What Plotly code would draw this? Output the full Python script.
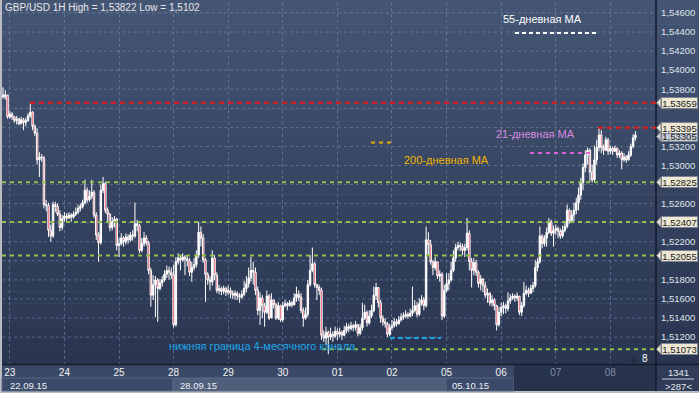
import plotly.graph_objects as go

# ---------------- data ----------------
first_open = 1.5374
closes = [1.5372,1.5374,1.5351,1.5354,1.5351,1.5347,1.5349,1.5344,1.5348,1.5345,
1.5347,1.5352,1.5356,1.5341,1.5334,1.5306,1.5309,1.5308,1.5259,1.5258,
1.5232,1.5226,1.5259,1.5257,1.5249,1.5235,1.5244,1.5247,1.5245,1.5248,
1.5246,1.5249,1.5251,1.5255,1.5257,1.5261,1.5274,1.5264,1.5268,1.5272,
1.5248,1.5227,1.5219,1.5274,1.5281,1.5253,1.5249,1.5235,1.5241,1.5244,
1.5216,1.5218,1.5224,1.5220,1.5225,1.5222,1.5227,1.5226,1.5239,1.5237,
1.5211,1.5218,1.5224,1.5219,1.5190,1.5164,1.5175,1.5180,1.5171,1.5177,
1.5180,1.5186,1.5190,1.5188,1.5185,1.5133,1.5199,1.5203,1.5201,1.5204,
1.5202,1.5200,1.5188,1.5193,1.5196,1.5206,1.5230,1.5224,1.5201,1.5186,
1.5180,1.5178,1.5203,1.5185,1.5169,1.5171,1.5168,1.5171,1.5167,1.5169,
1.5166,1.5164,1.5166,1.5163,1.5162,1.5165,1.5171,1.5176,1.5182,1.5190,
1.5188,1.5169,1.5148,1.5161,1.5153,1.5146,1.5163,1.5140,1.5159,1.5154,
1.5140,1.5153,1.5138,1.5153,1.5155,1.5153,1.5156,1.5154,1.5161,1.5165,
1.5162,1.5148,1.5140,1.5144,1.5175,1.5190,1.5197,1.5175,1.5172,1.5169,
1.5122,1.5119,1.5125,1.5120,1.5123,1.5121,1.5126,1.5123,1.5125,1.5122,
1.5127,1.5131,1.5129,1.5132,1.5130,1.5133,1.5124,1.5130,1.5140,1.5146,
1.5135,1.5142,1.5148,1.5164,1.5172,1.5156,1.5140,1.5136,1.5134,1.5123,
1.5130,1.5132,1.5136,1.5134,1.5138,1.5141,1.5142,1.5144,1.5142,1.5145,
1.5148,1.5153,1.5144,1.5155,1.5159,1.5153,1.5222,1.5217,1.5199,1.5193,
1.5199,1.5184,1.5186,1.5142,1.5169,1.5176,1.5180,1.5190,1.5203,1.5214,
1.5216,1.5215,1.5211,1.5214,1.5229,1.5199,1.5190,1.5198,1.5188,1.5176,
1.5181,1.5174,1.5164,1.5166,1.5156,1.5159,1.5153,1.5133,1.5146,1.5151,
1.5153,1.5150,1.5158,1.5161,1.5163,1.5161,1.5163,1.5146,1.5153,1.5166,
1.5169,1.5166,1.5171,1.5174,1.5193,1.5199,1.5226,1.5218,1.5224,1.5230,
1.5241,1.5229,1.5232,1.5234,1.5231,1.5226,1.5232,1.5236,1.5253,1.5242,
1.5248,1.5253,1.5261,1.5269,1.5282,1.5298,1.5311,1.5316,1.5293,1.5285,
1.5306,1.5319,1.5332,1.5319,1.5316,1.5327,1.5315,1.5318,1.5315,1.5318,
1.5311,1.5313,1.5306,1.5309,1.5306,1.5311,1.5320,1.5329,1.5332]
highs = [1.5382,1.5379,1.5374,1.5357,1.5356,1.5352,1.5352,1.5350,1.5351,1.5350,
1.5350,1.5355,1.5365,1.5357,1.5343,1.5339,1.5314,1.5312,1.5310,1.5264,
1.5261,1.5238,1.5262,1.5262,1.5260,1.5253,1.5248,1.5251,1.5250,1.5251,
1.5250,1.5252,1.5256,1.5259,1.5260,1.5264,1.5285,1.5277,1.5274,1.5285,
1.5274,1.5251,1.5230,1.5280,1.5288,1.5283,1.5256,1.5250,1.5246,1.5247,
1.5245,1.5224,1.5229,1.5226,1.5229,1.5228,1.5230,1.5232,1.5261,1.5243,
1.5239,1.5224,1.5230,1.5227,1.5221,1.5193,1.5185,1.5184,1.5182,1.5181,
1.5184,1.5190,1.5195,1.5194,1.5193,1.5196,1.5204,1.5208,1.5206,1.5208,
1.5206,1.5205,1.5203,1.5199,1.5203,1.5211,1.5241,1.5236,1.5228,1.5203,
1.5188,1.5184,1.5211,1.5206,1.5188,1.5175,1.5173,1.5174,1.5173,1.5174,
1.5172,1.5169,1.5169,1.5168,1.5166,1.5169,1.5179,1.5184,1.5193,1.5204,
1.5199,1.5193,1.5173,1.5167,1.5164,1.5156,1.5169,1.5165,1.5166,1.5159,
1.5156,1.5157,1.5154,1.5157,1.5159,1.5157,1.5159,1.5158,1.5166,1.5173,
1.5169,1.5166,1.5151,1.5151,1.5180,1.5206,1.5214,1.5199,1.5176,1.5175,
1.5172,1.5127,1.5131,1.5127,1.5130,1.5126,1.5131,1.5129,1.5130,1.5127,
1.5132,1.5135,1.5134,1.5136,1.5134,1.5137,1.5134,1.5134,1.5156,1.5154,
1.5148,1.5148,1.5154,1.5173,1.5177,1.5172,1.5159,1.5143,1.5140,1.5136,
1.5134,1.5138,1.5140,1.5139,1.5142,1.5145,1.5146,1.5148,1.5146,1.5150,
1.5173,1.5159,1.5157,1.5161,1.5164,1.5162,1.5236,1.5230,1.5222,1.5201,
1.5204,1.5199,1.5190,1.5188,1.5175,1.5187,1.5187,1.5199,1.5211,1.5218,
1.5220,1.5219,1.5218,1.5218,1.5245,1.5232,1.5203,1.5203,1.5201,1.5190,
1.5185,1.5182,1.5178,1.5171,1.5167,1.5164,1.5161,1.5154,1.5152,1.5156,
1.5157,1.5155,1.5167,1.5165,1.5166,1.5165,1.5167,1.5163,1.5157,1.5178,
1.5174,1.5172,1.5175,1.5178,1.5201,1.5203,1.5236,1.5228,1.5227,1.5235,
1.5245,1.5243,1.5237,1.5238,1.5236,1.5234,1.5237,1.5240,1.5259,1.5255,
1.5253,1.5261,1.5266,1.5277,1.5287,1.5302,1.5316,1.5319,1.5318,1.5301,
1.5321,1.5327,1.5340,1.5337,1.5322,1.5330,1.5329,1.5321,1.5320,1.5321,
1.5319,1.5316,1.5315,1.5313,1.5311,1.5315,1.5323,1.5333,1.5336]
lows = [1.5370,1.5369,1.5349,1.5349,1.5348,1.5345,1.5343,1.5342,1.5343,1.5337,
1.5341,1.5346,1.5350,1.5337,1.5331,1.5301,1.5288,1.5304,1.5255,1.5252,
1.5225,1.5220,1.5224,1.5251,1.5247,1.5231,1.5232,1.5241,1.5242,1.5244,
1.5241,1.5244,1.5247,1.5249,1.5252,1.5255,1.5259,1.5261,1.5262,1.5265,
1.5245,1.5222,1.5199,1.5217,1.5271,1.5250,1.5241,1.5231,1.5232,1.5235,
1.5211,1.5204,1.5216,1.5215,1.5217,1.5218,1.5220,1.5221,1.5224,1.5231,
1.5208,1.5209,1.5215,1.5216,1.5186,1.5152,1.5159,1.5141,1.5136,1.5169,
1.5173,1.5178,1.5182,1.5180,1.5181,1.5130,1.5131,1.5196,1.5190,1.5199,
1.5185,1.5194,1.5184,1.5178,1.5190,1.5193,1.5203,1.5215,1.5198,1.5157,
1.5175,1.5169,1.5174,1.5180,1.5166,1.5165,1.5164,1.5165,1.5163,1.5164,
1.5161,1.5160,1.5159,1.5159,1.5156,1.5160,1.5163,1.5167,1.5172,1.5178,
1.5175,1.5164,1.5143,1.5133,1.5140,1.5131,1.5144,1.5138,1.5140,1.5150,
1.5138,1.5138,1.5136,1.5136,1.5151,1.5148,1.5152,1.5151,1.5153,1.5157,
1.5158,1.5145,1.5131,1.5138,1.5141,1.5173,1.5188,1.5172,1.5159,1.5164,
1.5117,1.5115,1.5112,1.5102,1.5117,1.5115,1.5119,1.5117,1.5120,1.5117,
1.5121,1.5124,1.5125,1.5127,1.5126,1.5127,1.5121,1.5122,1.5127,1.5138,
1.5131,1.5133,1.5140,1.5146,1.5159,1.5151,1.5135,1.5132,1.5130,1.5120,
1.5121,1.5127,1.5130,1.5131,1.5133,1.5136,1.5138,1.5140,1.5139,1.5141,
1.5142,1.5146,1.5141,1.5142,1.5153,1.5148,1.5151,1.5206,1.5196,1.5185,
1.5190,1.5181,1.5178,1.5138,1.5140,1.5167,1.5169,1.5178,1.5188,1.5199,
1.5211,1.5210,1.5206,1.5204,1.5211,1.5190,1.5172,1.5185,1.5184,1.5172,
1.5169,1.5167,1.5161,1.5156,1.5153,1.5152,1.5148,1.5127,1.5131,1.5142,
1.5144,1.5145,1.5147,1.5155,1.5159,1.5157,1.5158,1.5143,1.5142,1.5151,
1.5164,1.5162,1.5165,1.5167,1.5172,1.5189,1.5197,1.5213,1.5215,1.5215,
1.5228,1.5226,1.5215,1.5227,1.5224,1.5223,1.5224,1.5230,1.5234,1.5239,
1.5240,1.5241,1.5249,1.5253,1.5264,1.5274,1.5293,1.5301,1.5283,1.5282,
1.5283,1.5301,1.5315,1.5313,1.5311,1.5315,1.5311,1.5312,1.5311,1.5314,
1.5308,1.5308,1.5296,1.5304,1.5303,1.5305,1.5309,1.5318,1.5326]

day_ticks = [3, 27, 51, 75, 99, 123, 147, 171, 195, 219, 243, 267]
day_labels = ["23", "24", "25", "28", "29", "30", "01", "02", "05", "06", "07", "08"]
week_labels = ["22.09.15", "28.09.15", "05.10.15"]
grid_ticks = [1.512, 1.514, 1.516, 1.518, 1.520, 1.522, 1.524, 1.526, 1.528,
              1.530, 1.532, 1.534, 1.536, 1.538, 1.540, 1.542, 1.544, 1.546]
# labels covered by the price markers are not printed
label_ticks = [1.512, 1.514, 1.516, 1.518, 1.522, 1.526,
               1.530, 1.532, 1.538, 1.540, 1.542, 1.544, 1.546]

resistance_levels = [1.53659, 1.53395]          # red
support_levels = [1.52825, 1.52407, 1.52055, 1.51073]  # green
# drawing order: the lower marker of the overlapping pair goes first (beneath)
marker_levels = [1.53305, 1.53659, 1.53395, 1.52825, 1.52407, 1.52055, 1.51073]
ma55 = 1.5439
ma21 = 1.5313
ma200 = 1.5324
channel_low = 1.5119

title_text = "GBP/USD 1H High = 1,53822 Low = 1,5102"

# ---------------- helpers for layout positions ----------------
W, H = 699, 393
L, R, T, B = 2, 43, 2, 29
PW, PH = W - L - R, H - T - B


def X(px):
    return (px - L) / PW


def Y(py):
    return (H - B - py) / PH


def bar_at(px):
    return (px - 3) / 2.275


opens = [first_open] + closes[:-1]
n = len(closes)
FONT = "Liberation Sans, Arial, sans-serif"

fig = go.Figure()
fig.add_trace(go.Candlestick(
    x=list(range(n)), open=opens, high=highs, low=lows, close=closes,
    increasing=dict(fillcolor="#ffffff", line=dict(color="#ffffff", width=1)),
    decreasing=dict(fillcolor="#e8102a", line=dict(color="#ffffff", width=1)),
    whiskerwidth=0, hoverinfo="skip", showlegend=False))

shapes = []
top_c = (68, 84, 115)
bot_c = (42, 54, 81)
steps = 30
for k in range(steps):
    y0 = k * 364 / steps
    y1 = (k + 1) * 364 / steps + 0.5
    t = k / (steps - 1)
    c = tuple(int(round(top_c[j] + (bot_c[j] - top_c[j]) * t)) for j in range(3))
    shapes.append(dict(type="rect", xref="paper", yref="paper", layer="below",
                       x0=X(2), x1=X(699), y0=Y(y1), y1=Y(y0),
                       fillcolor="rgb(%d,%d,%d)" % c, line=dict(width=0)))
for g in grid_ticks:
    shapes.append(dict(type="line", xref="paper", yref="y", layer="below",
                       x0=0, x1=1, y0=g, y1=g,
                       line=dict(color="rgba(125,143,178,0.55)", width=1, dash="3px,3px")))
shapes.append(dict(type="rect", xref="paper", yref="paper", layer="below",
                   x0=X(2), x1=X(699), y0=Y(391), y1=Y(364),
                   fillcolor="#3a4967", line=dict(width=0)))
shapes.append(dict(type="rect", xref="paper", yref="paper", layer="below",
                   x0=X(2), x1=X(173), y0=Y(391), y1=Y(378),
                   fillcolor="#3b4a68", line=dict(color="#56657f", width=1)))
shapes.append(dict(type="rect", xref="paper", yref="paper", layer="below",
                   x0=X(173), x1=X(446), y0=Y(391), y1=Y(378),
                   fillcolor="#4f5e7b", line=dict(color="#5d6c88", width=1)))
shapes.append(dict(type="rect", xref="paper", yref="paper", layer="below",
                   x0=X(446), x1=X(514), y0=Y(391), y1=Y(378),
                   fillcolor="#3b4a68", line=dict(color="#56657f", width=1)))
shapes.append(dict(type="rect", xref="paper", yref="paper", layer="below",
                   x0=X(514), x1=X(656), y0=Y(391), y1=Y(365),
                   fillcolor="#27334d", line=dict(width=0)))
shapes.append(dict(type="rect", xref="paper", yref="paper", layer="below",
                   x0=X(656), x1=X(699), y0=Y(391), y1=Y(365),
                   fillcolor="#2f3c58", line=dict(width=0)))
shapes.append(dict(type="line", xref="paper", yref="paper", layer="above",
                   x0=X(2), x1=X(699), y0=Y(364.5), y1=Y(364.5),
                   line=dict(color="#141b2a", width=1.5)))
shapes.append(dict(type="line", xref="paper", yref="paper", layer="above",
                   x0=X(656), x1=X(656), y0=Y(391), y1=Y(0),
                   line=dict(color="#141b2a", width=1.5)))
shapes.append(dict(type="line", xref="paper", yref="paper", layer="above",
                   x0=X(662), x1=X(694), y0=Y(379), y1=Y(379),
                   line=dict(color="#c8ccd6", width=1)))

xmax = 287.06
for lv in resistance_levels:
    x0 = bar_at(30) if lv == resistance_levels[0] else bar_at(598)
    shapes.append(dict(type="line", xref="x", yref="y", x0=x0, x1=xmax, y0=lv, y1=lv,
                       line=dict(color="#e81818", width=2, dash="5px,4px")))
for lv in support_levels:
    x0 = bar_at(322) if lv == support_levels[-1] else -0.44
    shapes.append(dict(type="line", xref="x", yref="y", x0=x0, x1=xmax, y0=lv, y1=lv,
                       line=dict(color="#8fc14a", width=2, dash="4px,4px")))
shapes.append(dict(type="line", xref="x", yref="y", x0=bar_at(515), x1=bar_at(598),
                   y0=ma55, y1=ma55, line=dict(color="#ffffff", width=2, dash="4px,3px")))
shapes.append(dict(type="line", xref="x", yref="y", x0=bar_at(530), x1=bar_at(591),
                   y0=ma21, y1=ma21, line=dict(color="#e060d8", width=2, dash="4px,4px")))
shapes.append(dict(type="line", xref="x", yref="y", x0=bar_at(371), x1=bar_at(393),
                   y0=ma200, y1=ma200, line=dict(color="#f0a800", width=2, dash="4px,4px")))
shapes.append(dict(type="line", xref="x", yref="y", x0=bar_at(390), x1=bar_at(441),
                   y0=channel_low, y1=channel_low, line=dict(color="#1aa3e6", width=2, dash="5px,3px")))

half = 5.0 * 0.0001049
annotations = []
for lv in marker_levels:
    fill = "#c5cad6" if lv == 1.53305 else "#ebe7d2"
    # small pointer on the left of each marker box
    shapes.append(dict(type="path", xref="paper", yref="y", layer="above",
                       path="M %f,%f L %f,%f L %f,%f Z" % (X(656.5), lv, X(661), lv + half, X(661), lv - half),
                       fillcolor=fill, line=dict(color="#7d8290", width=1)))
    annotations.append(dict(xref="paper", yref="y", x=X(679.5), y=lv, showarrow=False,
                            xanchor="center", yanchor="middle",
                            text=("%.5f" % lv).replace(".", ","),
                            width=35, height=10, borderpad=0, borderwidth=1,
                            bgcolor=fill, bordercolor="#7d8290",
                            font=dict(family=FONT, size=9.5, color="#1a1a1a")))

shapes.append(dict(type="path", xref="paper", yref="paper", layer="above",
                   path="M %f,%f L %f,%f L %f,%f Z" % (X(630), Y(362), X(638), Y(362), X(634), Y(357)),
                   fillcolor="#222c40", line=dict(width=0)))


def ann(text, px, py, color, size, anchor="left"):
    annotations.append(dict(xref="paper", yref="paper", x=X(px), y=Y(py), text=text,
                            showarrow=False, xanchor=anchor, yanchor="middle",
                            font=dict(family=FONT, size=size, color=color)))


ann(title_text, 3, 8, "#e8e8ec", 10)
ann("55-дневная MA", 501, 19, "#ffffff", 11)
ann("21-дневная MA", 494, 134, "#d98be0", 11)
ann("200-дневная MA", 402, 160, "#f5b400", 11)
ann("нижняя граница 4-месячного канала", 167, 346, "#1ea6e8", 11)
ann("8", 640, 358, "#ffffff", 10)
ann(week_labels[0], 8, 385, "#eef0f4", 9.5)
ann(week_labels[1], 178, 385, "#eef0f4", 9.5)
ann(week_labels[2], 450, 385, "#eef0f4", 9.5)
ann("1341", 678, 372, "#e6e8ee", 9.5, "center")
ann("&gt;287&lt;", 678, 386, "#e6e8ee", 9.5, "center")

ticktext = []
for lab in day_labels:
    if lab in ("07", "08"):
        ticktext.append("<span style='color:#7f8ba3'>" + lab + "</span>")
    else:
        ticktext.append(lab)

fig.update_layout(
    width=W, height=H,
    margin=dict(l=L, r=R, t=T, b=B, pad=0),
    paper_bgcolor="#b9bcc3",
    plot_bgcolor="rgba(0,0,0,0)",
    showlegend=False,
    boxgap=0.1,
    shapes=shapes,
    annotations=annotations,
    xaxis=dict(range=[-0.44, xmax], rangeslider=dict(visible=False),
               tickmode="array", tickvals=day_ticks, ticktext=ticktext,
               showgrid=True, gridcolor="rgba(125,143,178,0.55)", griddash="3px,3px", gridwidth=1,
               zeroline=False, showline=False, ticks="", ticklabelstandoff=1,
               tickfont=dict(family=FONT, size=10, color="#f2f2f2"), fixedrange=True),
    yaxis=dict(range=[1.50918, 1.54715], side="right",
               tickmode="array", tickvals=label_ticks,
               ticktext=[("%.5f" % v).replace(".", ",") for v in label_ticks],
               showgrid=False,
               zeroline=False, showline=False, ticks="", ticklabelstandoff=4,
               tickfont=dict(family=FONT, size=9.5, color="#dfe3ea"), fixedrange=True),
)

fig.write_html("out.html")
